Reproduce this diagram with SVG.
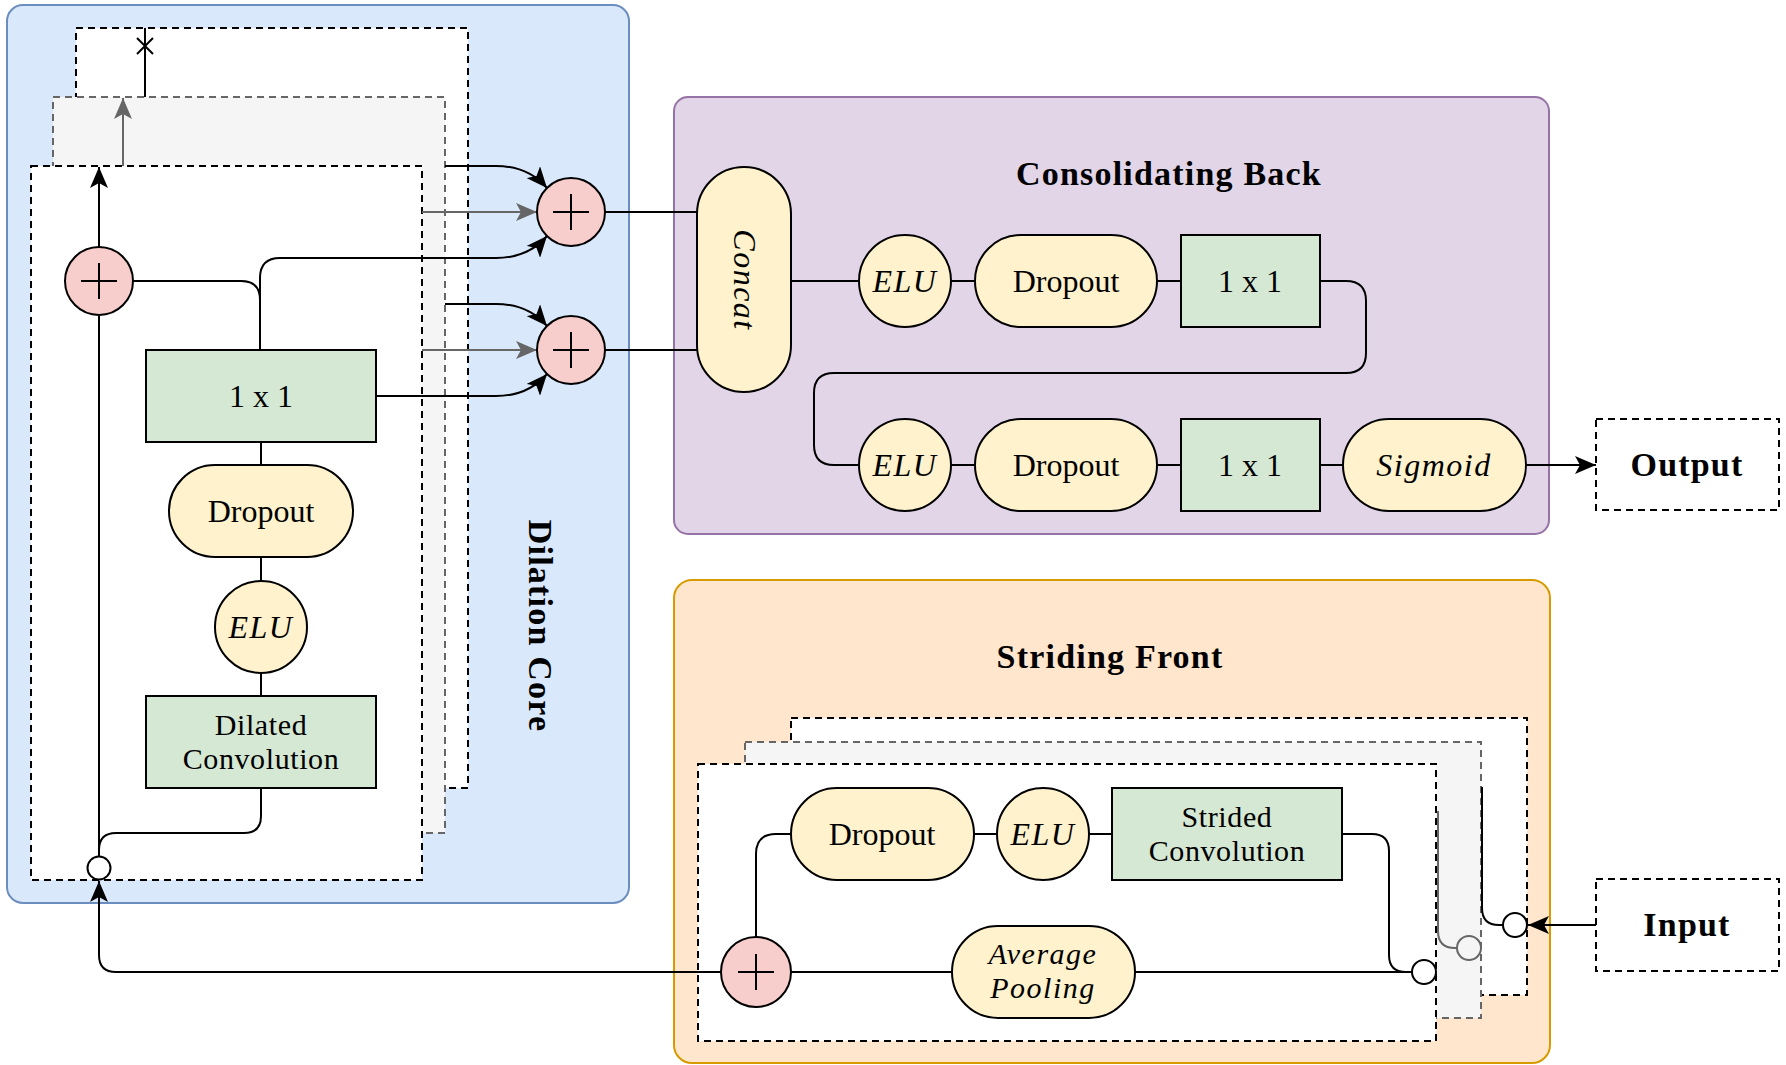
<svg xmlns="http://www.w3.org/2000/svg" width="1786" height="1065" viewBox="0 0 1786 1065">
<defs>
<style>
.cont{stroke-width:2}
.green{fill:#d5e8d4;stroke:#000;stroke-width:2}
.yel{fill:#fff2cc;stroke:#000;stroke-width:2}
.pink{fill:#f8cecc;stroke:#000;stroke-width:2}
.w{fill:none;stroke:#000;stroke-width:2}
.wg{fill:none;stroke:#666;stroke-width:2}
.dash{fill:#fff;stroke:#000;stroke-width:2;stroke-dasharray:7 5}
.dashg{fill:#f5f5f5;stroke:#666;stroke-width:2;stroke-dasharray:7 5}
.dot{fill:#fff;stroke:#000;stroke-width:2}
.dotg{fill:#f5f5f5;stroke:#666;stroke-width:2}
.t{font-family:"Liberation Serif","Times New Roman",serif;font-size:32px;text-anchor:middle;fill:#000}
.two{font-size:30px;letter-spacing:0.6px}
.i{font-style:italic;letter-spacing:1.5px}
.b{font-weight:bold;font-size:34px;letter-spacing:1.2px}
</style>
<marker id="arr" viewBox="0 0 21 18" refX="21" refY="9" markerWidth="21" markerHeight="18" markerUnits="userSpaceOnUse" orient="auto">
<path d="M0,0 L21,9 L0,18 L5,9 z" fill="#000"/>
</marker>
<marker id="arrg" viewBox="0 0 21 18" refX="21" refY="9" markerWidth="21" markerHeight="18" markerUnits="userSpaceOnUse" orient="auto">
<path d="M0,0 L21,9 L0,18 L5,9 z" fill="#666"/>
</marker>
</defs>

<!-- containers -->
<g id="dilation-core">
<rect x="7" y="5" width="622" height="898" rx="16" fill="#dae8fc" stroke="#6c8ebf" class="cont"/>
<text class="t b" transform="translate(541,626) rotate(90)" y="12">Dilation Core</text>
</g>
<g id="consolidating-back">
<rect x="674" y="97" width="875" height="437" rx="14" fill="#e1d5e7" stroke="#9673a6" class="cont"/>
<text class="t b" x="1169" y="185">Consolidating Back</text>
</g>
<g id="striding-front">
<rect x="674" y="580" width="876" height="483" rx="18" fill="#ffe6cc" stroke="#d79b00" class="cont"/>
<text class="t b" x="1110" y="668">Striding Front</text>
</g>

<!-- stacked layers -->
<g id="dilation-layers">
<rect class="dash" x="76" y="28" width="392" height="760"/>
<rect class="dashg" x="53" y="97" width="392" height="736"/>
<rect class="dash" x="31" y="166" width="391" height="714"/>
</g>
<g id="striding-layers">
<rect class="dash" x="791" y="718" width="736" height="277"/>
<rect class="dashg" x="745" y="742" width="736" height="276"/>
<rect class="dash" x="698" y="764" width="738" height="277"/>
</g>

<!-- connectors -->
<g id="connectors">
<path class="w" d="M99,316 V856"/>
<path class="w" d="M261,788 V816 Q261,833 244,833 H116 Q99,833 99,850"/>
<path class="w" d="M99,247 V167" marker-end="url(#arr)"/>
<path class="wg" d="M123,166 V98" marker-end="url(#arrg)"/>
<path class="w" d="M145,97 V28 M137,38 L153,54 M153,38 L137,54"/>
<path class="w" d="M260,350 V300 Q260,281 241,281 H133"/>
<path class="w" d="M260,350 V278 Q260,258 280,258 H496 Q528,258 547,236" marker-end="url(#arr)"/>
<path class="w" d="M445,166 H496 Q528,166 547,188" marker-end="url(#arr)"/>
<path class="wg" d="M422,212 H537" marker-end="url(#arrg)"/>
<path class="w" d="M445,304 H496 Q528,304 547,326" marker-end="url(#arr)"/>
<path class="wg" d="M422,350 H537" marker-end="url(#arrg)"/>
<path class="w" d="M376,396 H496 Q528,396 547,374" marker-end="url(#arr)"/>
<path class="w" d="M261,442 V465 M261,557 V581 M261,673 V696"/>
<path class="w" d="M605,212 H697 M605,350 H697"/>
<path class="w" d="M791,281 H859 M951,281 H975 M1157,281 H1181"/>
<path class="w" d="M1320,281 H1346 Q1366,281 1366,301 V353 Q1366,373 1346,373 H834 Q814,373 814,393 V445 Q814,465 834,465 H859"/>
<path class="w" d="M951,465 H975 M1157,465 H1181 M1320,465 H1343"/>
<path class="w" d="M1526,465 H1596" marker-end="url(#arr)"/>
<path class="w" d="M756,937 V854 Q756,834 776,834 H791"/>
<path class="w" d="M974,834 H997 M1089,834 H1112"/>
<path class="w" d="M1342,834 H1372 Q1389,834 1389,851 V955 Q1389,972 1406,972 H1412"/>
<path class="w" d="M791,972 H952 M1135,972 H1412"/>
<path class="wg" d="M1438,811 V931 Q1438,948 1455,948 H1457"/>
<path class="w" d="M1482,787 V908 Q1482,925 1499,925 H1503"/>
<path class="w" d="M1596,925 H1528" marker-end="url(#arr)"/>
<path class="w" d="M721,972 H116 Q99,972 99,955 V881" marker-end="url(#arr)"/>
</g>

<!-- Dilation core nodes -->
<g id="d-sum">
<circle class="pink" cx="99" cy="281" r="34"/>
<path class="w" d="M81,281 H117 M99,263 V299"/>
</g>
<g id="d-1x1">
<rect class="green" x="146" y="350" width="230" height="92"/>
<text class="t" x="261" y="407">1 x 1</text>
</g>
<g id="d-dropout">
<rect class="yel" x="169" y="465" width="184" height="92" rx="46"/>
<text class="t" x="261" y="522">Dropout</text>
</g>
<g id="d-elu">
<circle class="yel" cx="261" cy="627" r="46"/>
<text class="t i" x="261" y="638">ELU</text>
</g>
<g id="d-dilated-conv">
<rect class="green" x="146" y="696" width="230" height="92"/>
<text class="t two" x="261" y="735">Dilated<tspan x="261" dy="34">Convolution</tspan></text>
</g>
<g id="d-split">
<circle class="dot" cx="99" cy="868" r="11.5"/>
</g>
<g id="sum-1">
<circle class="pink" cx="571" cy="212" r="34"/>
<path class="w" d="M553,212 H589 M571,194 V230"/>
</g>
<g id="sum-2">
<circle class="pink" cx="571" cy="350" r="34"/>
<path class="w" d="M553,350 H589 M571,332 V368"/>
</g>

<!-- Consolidating back nodes -->
<g id="concat">
<rect class="yel" x="697" y="167" width="94" height="225" rx="47"/>
<text class="t i" transform="translate(744,280) rotate(90)" y="10">Concat</text>
</g>
<g id="c-elu-1">
<circle class="yel" cx="905" cy="281" r="46"/>
<text class="t i" x="905" y="292">ELU</text>
</g>
<g id="c-dropout-1">
<rect class="yel" x="975" y="235" width="182" height="92" rx="46"/>
<text class="t" x="1066" y="292">Dropout</text>
</g>
<g id="c-1x1-1">
<rect class="green" x="1181" y="235" width="139" height="92"/>
<text class="t" x="1250" y="292">1 x 1</text>
</g>
<g id="c-elu-2">
<circle class="yel" cx="905" cy="465" r="46"/>
<text class="t i" x="905" y="476">ELU</text>
</g>
<g id="c-dropout-2">
<rect class="yel" x="975" y="419" width="182" height="92" rx="46"/>
<text class="t" x="1066" y="476">Dropout</text>
</g>
<g id="c-1x1-2">
<rect class="green" x="1181" y="419" width="139" height="92"/>
<text class="t" x="1250" y="476">1 x 1</text>
</g>
<g id="sigmoid">
<rect class="yel" x="1343" y="419" width="183" height="92" rx="46"/>
<text class="t i" x="1434" y="476">Sigmoid</text>
</g>
<g id="output">
<rect class="dash" x="1596" y="419" width="183" height="91"/>
<text class="t b" x="1687" y="476">Output</text>
</g>

<!-- Striding front nodes -->
<g id="s-dropout">
<rect class="yel" x="791" y="788" width="183" height="92" rx="46"/>
<text class="t" x="882" y="845">Dropout</text>
</g>
<g id="s-elu">
<circle class="yel" cx="1043" cy="834" r="46"/>
<text class="t i" x="1043" y="845">ELU</text>
</g>
<g id="s-strided-conv">
<rect class="green" x="1112" y="788" width="230" height="92"/>
<text class="t two" x="1227" y="827">Strided<tspan x="1227" dy="34">Convolution</tspan></text>
</g>
<g id="s-sum">
<circle class="pink" cx="756" cy="972" r="35"/>
<path class="w" d="M738,972 H774 M756,954 V990"/>
</g>
<g id="s-avgpool">
<rect class="yel" x="952" y="926" width="183" height="92" rx="46"/>
<text class="t two i" x="1043" y="964">Average<tspan x="1043" dy="34">Pooling</tspan></text>
</g>
<g id="s-split-1">
<circle class="dot" cx="1424" cy="972" r="12"/>
</g>
<g id="s-split-2">
<circle class="dotg" cx="1469" cy="948" r="12"/>
</g>
<g id="s-split-3">
<circle class="dot" cx="1515" cy="925" r="12"/>
</g>
<g id="input">
<rect class="dash" x="1596" y="879" width="183" height="92"/>
<text class="t b" x="1687" y="936">Input</text>
</g>
</svg>
